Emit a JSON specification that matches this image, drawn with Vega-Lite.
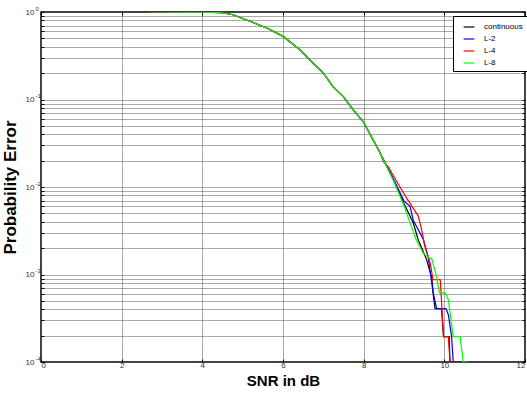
{
  "$schema": "https://vega.github.io/schema/vega-lite/v6.json",
  "width": 484,
  "height": 350,
  "autosize": "none",
  "padding": {"left": 41, "top": 12, "right": 2, "bottom": 36},
  "config": {
    "font": "Liberation Sans",
    "view": {"stroke": "black", "strokeWidth": 1.5}
  },
  "datasets": {
    "pe": [
      {"snr": 2.7, "pe": 1.0, "series": "continuous"},
      {"snr": 3.0, "pe": 1.0, "series": "continuous"},
      {"snr": 3.5, "pe": 0.999, "series": "continuous"},
      {"snr": 4.0, "pe": 0.997, "series": "continuous"},
      {"snr": 4.5, "pe": 0.98, "series": "continuous"},
      {"snr": 4.76, "pe": 0.931, "series": "continuous"},
      {"snr": 5.0, "pe": 0.843, "series": "continuous"},
      {"snr": 5.18, "pe": 0.783, "series": "continuous"},
      {"snr": 5.5, "pe": 0.684, "series": "continuous"},
      {"snr": 5.6, "pe": 0.656, "series": "continuous"},
      {"snr": 6.0, "pe": 0.527, "series": "continuous"},
      {"snr": 6.42, "pe": 0.37, "series": "continuous"},
      {"snr": 6.67, "pe": 0.282, "series": "continuous"},
      {"snr": 7.0, "pe": 0.2, "series": "continuous"},
      {"snr": 7.24, "pe": 0.14, "series": "continuous"},
      {"snr": 7.5, "pe": 0.107, "series": "continuous"},
      {"snr": 7.74, "pe": 0.0759, "series": "continuous"},
      {"snr": 8.0, "pe": 0.055, "series": "continuous"},
      {"snr": 8.2, "pe": 0.0369, "series": "continuous"},
      {"snr": 8.41, "pe": 0.0243, "series": "continuous"},
      {"snr": 8.74, "pe": 0.012, "series": "continuous"},
      {"snr": 9.0, "pe": 0.00646, "series": "continuous"},
      {"snr": 9.23, "pe": 0.00389, "series": "continuous"},
      {"snr": 9.35, "pe": 0.00251, "series": "continuous"},
      {"snr": 9.56, "pe": 0.00148, "series": "continuous"},
      {"snr": 9.69, "pe": 0.000912, "series": "continuous"},
      {"snr": 9.73, "pe": 0.000562, "series": "continuous"},
      {"snr": 9.77, "pe": 0.000407, "series": "continuous"},
      {"snr": 9.93, "pe": 0.000407, "series": "continuous"},
      {"snr": 9.98, "pe": 0.000195, "series": "continuous"},
      {"snr": 10.12, "pe": 0.000195, "series": "continuous"},
      {"snr": 10.14, "pe": 0.0001, "series": "continuous"},
      {"snr": 10.3, "pe": 0.0001, "series": "continuous"},

      {"snr": 2.7, "pe": 1.0, "series": "L-2"},
      {"snr": 3.0, "pe": 1.0, "series": "L-2"},
      {"snr": 3.5, "pe": 0.999, "series": "L-2"},
      {"snr": 4.0, "pe": 0.997, "series": "L-2"},
      {"snr": 4.5, "pe": 0.98, "series": "L-2"},
      {"snr": 4.76, "pe": 0.931, "series": "L-2"},
      {"snr": 5.0, "pe": 0.843, "series": "L-2"},
      {"snr": 5.18, "pe": 0.783, "series": "L-2"},
      {"snr": 5.5, "pe": 0.684, "series": "L-2"},
      {"snr": 5.6, "pe": 0.656, "series": "L-2"},
      {"snr": 6.0, "pe": 0.527, "series": "L-2"},
      {"snr": 6.42, "pe": 0.37, "series": "L-2"},
      {"snr": 6.67, "pe": 0.282, "series": "L-2"},
      {"snr": 7.0, "pe": 0.2, "series": "L-2"},
      {"snr": 7.24, "pe": 0.14, "series": "L-2"},
      {"snr": 7.5, "pe": 0.107, "series": "L-2"},
      {"snr": 7.74, "pe": 0.0759, "series": "L-2"},
      {"snr": 8.0, "pe": 0.055, "series": "L-2"},
      {"snr": 8.2, "pe": 0.0369, "series": "L-2"},
      {"snr": 8.41, "pe": 0.0245, "series": "L-2"},
      {"snr": 8.74, "pe": 0.0123, "series": "L-2"},
      {"snr": 9.0, "pe": 0.0069, "series": "L-2"},
      {"snr": 9.15, "pe": 0.006, "series": "L-2"},
      {"snr": 9.23, "pe": 0.00417, "series": "L-2"},
      {"snr": 9.48, "pe": 0.00251, "series": "L-2"},
      {"snr": 9.6, "pe": 0.00158, "series": "L-2"},
      {"snr": 9.72, "pe": 0.00063, "series": "L-2"},
      {"snr": 9.81, "pe": 0.000407, "series": "L-2"},
      {"snr": 10.04, "pe": 0.000407, "series": "L-2"},
      {"snr": 10.1, "pe": 0.000347, "series": "L-2"},
      {"snr": 10.18, "pe": 0.000195, "series": "L-2"},
      {"snr": 10.22, "pe": 0.0001, "series": "L-2"},
      {"snr": 10.4, "pe": 0.0001, "series": "L-2"},

      {"snr": 2.7, "pe": 1.0, "series": "L-4"},
      {"snr": 3.0, "pe": 1.0, "series": "L-4"},
      {"snr": 3.5, "pe": 0.999, "series": "L-4"},
      {"snr": 4.0, "pe": 0.997, "series": "L-4"},
      {"snr": 4.5, "pe": 0.98, "series": "L-4"},
      {"snr": 4.76, "pe": 0.931, "series": "L-4"},
      {"snr": 5.0, "pe": 0.843, "series": "L-4"},
      {"snr": 5.18, "pe": 0.783, "series": "L-4"},
      {"snr": 5.5, "pe": 0.684, "series": "L-4"},
      {"snr": 5.6, "pe": 0.656, "series": "L-4"},
      {"snr": 6.0, "pe": 0.527, "series": "L-4"},
      {"snr": 6.42, "pe": 0.37, "series": "L-4"},
      {"snr": 6.67, "pe": 0.282, "series": "L-4"},
      {"snr": 7.0, "pe": 0.2, "series": "L-4"},
      {"snr": 7.24, "pe": 0.14, "series": "L-4"},
      {"snr": 7.5, "pe": 0.107, "series": "L-4"},
      {"snr": 7.74, "pe": 0.0759, "series": "L-4"},
      {"snr": 8.0, "pe": 0.055, "series": "L-4"},
      {"snr": 8.2, "pe": 0.0369, "series": "L-4"},
      {"snr": 8.41, "pe": 0.0245, "series": "L-4"},
      {"snr": 8.49, "pe": 0.0195, "series": "L-4"},
      {"snr": 8.61, "pe": 0.017, "series": "L-4"},
      {"snr": 8.9, "pe": 0.01, "series": "L-4"},
      {"snr": 9.07, "pe": 0.00741, "series": "L-4"},
      {"snr": 9.35, "pe": 0.00468, "series": "L-4"},
      {"snr": 9.42, "pe": 0.00355, "series": "L-4"},
      {"snr": 9.52, "pe": 0.00209, "series": "L-4"},
      {"snr": 9.65, "pe": 0.00135, "series": "L-4"},
      {"snr": 9.72, "pe": 0.000871, "series": "L-4"},
      {"snr": 9.9, "pe": 0.000871, "series": "L-4"},
      {"snr": 9.98, "pe": 0.000195, "series": "L-4"},
      {"snr": 10.1, "pe": 0.000195, "series": "L-4"},
      {"snr": 10.14, "pe": 0.0001, "series": "L-4"},
      {"snr": 10.34, "pe": 0.0001, "series": "L-4"},

      {"snr": 2.7, "pe": 1.0, "series": "L-8"},
      {"snr": 3.0, "pe": 1.0, "series": "L-8"},
      {"snr": 3.5, "pe": 0.999, "series": "L-8"},
      {"snr": 4.0, "pe": 0.997, "series": "L-8"},
      {"snr": 4.5, "pe": 0.98, "series": "L-8"},
      {"snr": 4.76, "pe": 0.931, "series": "L-8"},
      {"snr": 5.0, "pe": 0.843, "series": "L-8"},
      {"snr": 5.18, "pe": 0.783, "series": "L-8"},
      {"snr": 5.5, "pe": 0.684, "series": "L-8"},
      {"snr": 5.6, "pe": 0.656, "series": "L-8"},
      {"snr": 6.0, "pe": 0.527, "series": "L-8"},
      {"snr": 6.42, "pe": 0.37, "series": "L-8"},
      {"snr": 6.67, "pe": 0.282, "series": "L-8"},
      {"snr": 7.0, "pe": 0.2, "series": "L-8"},
      {"snr": 7.24, "pe": 0.14, "series": "L-8"},
      {"snr": 7.5, "pe": 0.107, "series": "L-8"},
      {"snr": 7.74, "pe": 0.0759, "series": "L-8"},
      {"snr": 8.0, "pe": 0.055, "series": "L-8"},
      {"snr": 8.2, "pe": 0.0369, "series": "L-8"},
      {"snr": 8.41, "pe": 0.0243, "series": "L-8"},
      {"snr": 8.74, "pe": 0.0118, "series": "L-8"},
      {"snr": 9.0, "pe": 0.0061, "series": "L-8"},
      {"snr": 9.15, "pe": 0.00389, "series": "L-8"},
      {"snr": 9.31, "pe": 0.00245, "series": "L-8"},
      {"snr": 9.48, "pe": 0.00174, "series": "L-8"},
      {"snr": 9.6, "pe": 0.00158, "series": "L-8"},
      {"snr": 9.69, "pe": 0.00151, "series": "L-8"},
      {"snr": 9.81, "pe": 0.000933, "series": "L-8"},
      {"snr": 9.88, "pe": 0.000617, "series": "L-8"},
      {"snr": 10.02, "pe": 0.000617, "series": "L-8"},
      {"snr": 10.1, "pe": 0.000513, "series": "L-8"},
      {"snr": 10.22, "pe": 0.000195, "series": "L-8"},
      {"snr": 10.39, "pe": 0.000195, "series": "L-8"},
      {"snr": 10.47, "pe": 0.0001, "series": "L-8"},
      {"snr": 10.6, "pe": 0.0001, "series": "L-8"}
    ]
  },
  "data": {"name": "pe"},
  "layer": [
    {
      "mark": {"type": "line", "clip": true, "strokeWidth": 1.2},
      "encoding": {
        "x": {
          "field": "snr", "type": "quantitative",
          "scale": {"domain": [0, 12], "nice": false, "zero": false},
          "axis": {
            "values": [0, 2, 4, 6, 8, 10, 12],
            "title": "SNR in dB",
            "titleFontSize": 15, "titleFontWeight": "bold", "titleColor": "black",
            "titlePadding": 4,
            "labelFontSize": 8, "labelColor": "#333", "labelPadding": 2,
            "tickSize": -3, "tickColor": "black",
            "domain": false,
            "grid": true, "gridColor": "#555", "gridDash": [1, 1], "gridWidth": 1
          }
        },
        "y": {
          "field": "pe", "type": "quantitative",
          "scale": {"type": "log", "domain": [0.0001, 1], "nice": false},
          "axis": {
            "orient": "left",
            "values": [0.0001, 0.0002, 0.0003, 0.0004, 0.0005, 0.0006, 0.0007, 0.0008, 0.0009,
                       0.001, 0.002, 0.003, 0.004, 0.005, 0.006, 0.007, 0.008, 0.009,
                       0.01, 0.02, 0.03, 0.04, 0.05, 0.06, 0.07, 0.08, 0.09,
                       0.1, 0.2, 0.3, 0.4, 0.5, 0.6, 0.7, 0.8, 0.9, 1],
            "labelExpr": "(datum.value == 1 || datum.value == 0.1 || datum.value == 0.01 || datum.value == 0.001 || datum.value == 0.0001) ? '10' : ''",
            "title": "Probability Error",
            "titleFontSize": 17, "titleFontWeight": "bold", "titleColor": "black",
            "titlePadding": 6,
            "labelFontSize": 8, "labelColor": "#333", "labelPadding": 10,
            "tickSize": -3, "tickColor": "black",
            "domain": false,
            "grid": true, "gridColor": "#555", "gridDash": [1, 1], "gridWidth": 1
          }
        },
        "color": {
          "field": "series", "type": "nominal",
          "scale": {"domain": ["continuous", "L-2", "L-4", "L-8"], "range": ["#000000", "#0000ff", "#ff0000", "#00ff00"]},
          "legend": {
            "title": null,
            "orient": "none", "legendX": 412, "legendY": 4,
            "fillColor": "white", "strokeColor": "black", "padding": 4,
            "symbolType": "M-0.85,0H0.85", "symbolSize": 160, "symbolStrokeWidth": 1.2,
            "symbolOffset": 5,
            "labelFontSize": 8, "labelColor": "black", "labelOffset": 8,
            "rowPadding": 1
          }
        }
      }
    },
    {
      "mark": {"type": "line", "opacity": 0},
      "encoding": {
        "x": {
          "field": "snr", "type": "quantitative",
          "scale": {"domain": [0, 12], "nice": false, "zero": false},
          "axis": {"orient": "top", "values": [0, 2, 4, 6, 8, 10, 12], "labels": false, "title": null, "tickSize": -3, "tickColor": "black", "domain": false, "grid": false}
        },
        "y": {
          "field": "pe", "type": "quantitative",
          "scale": {"type": "log", "domain": [0.0001, 1], "nice": false},
          "axis": {
            "orient": "right",
            "values": [0.0001, 0.0002, 0.0003, 0.0004, 0.0005, 0.0006, 0.0007, 0.0008, 0.0009,
                       0.001, 0.002, 0.003, 0.004, 0.005, 0.006, 0.007, 0.008, 0.009,
                       0.01, 0.02, 0.03, 0.04, 0.05, 0.06, 0.07, 0.08, 0.09,
                       0.1, 0.2, 0.3, 0.4, 0.5, 0.6, 0.7, 0.8, 0.9, 1],
            "labels": false, "title": null, "tickSize": -3, "tickColor": "black", "domain": false, "grid": false
          }
        },
        "detail": {"field": "series", "type": "nominal"}
      }
    },
    {
      "mark": {"type": "line", "opacity": 0},
      "encoding": {
        "x": {
          "field": "snr", "type": "quantitative",
          "scale": {"domain": [0, 12], "nice": false, "zero": false},
          "axis": null
        },
        "y": {
          "field": "pe", "type": "quantitative",
          "scale": {"type": "log", "domain": [0.0001, 1], "nice": false},
          "axis": {
            "orient": "left",
            "values": [0.0001, 0.001, 0.01, 0.1, 1],
            "labelExpr": "datum.value == 1 ? '0' : datum.value == 0.1 ? '-1' : datum.value == 0.01 ? '-2' : datum.value == 0.001 ? '-3' : '-4'",
            "labelAlign": "left", "labelPadding": 6, "labelOffset": -4,
            "labelFontSize": 6, "labelColor": "#333",
            "title": null, "ticks": false, "domain": false, "grid": false
          }
        },
        "detail": {"field": "series", "type": "nominal"}
      }
    }
  ],
  "resolve": {"scale": {"x": "independent", "y": "independent"}}
}
